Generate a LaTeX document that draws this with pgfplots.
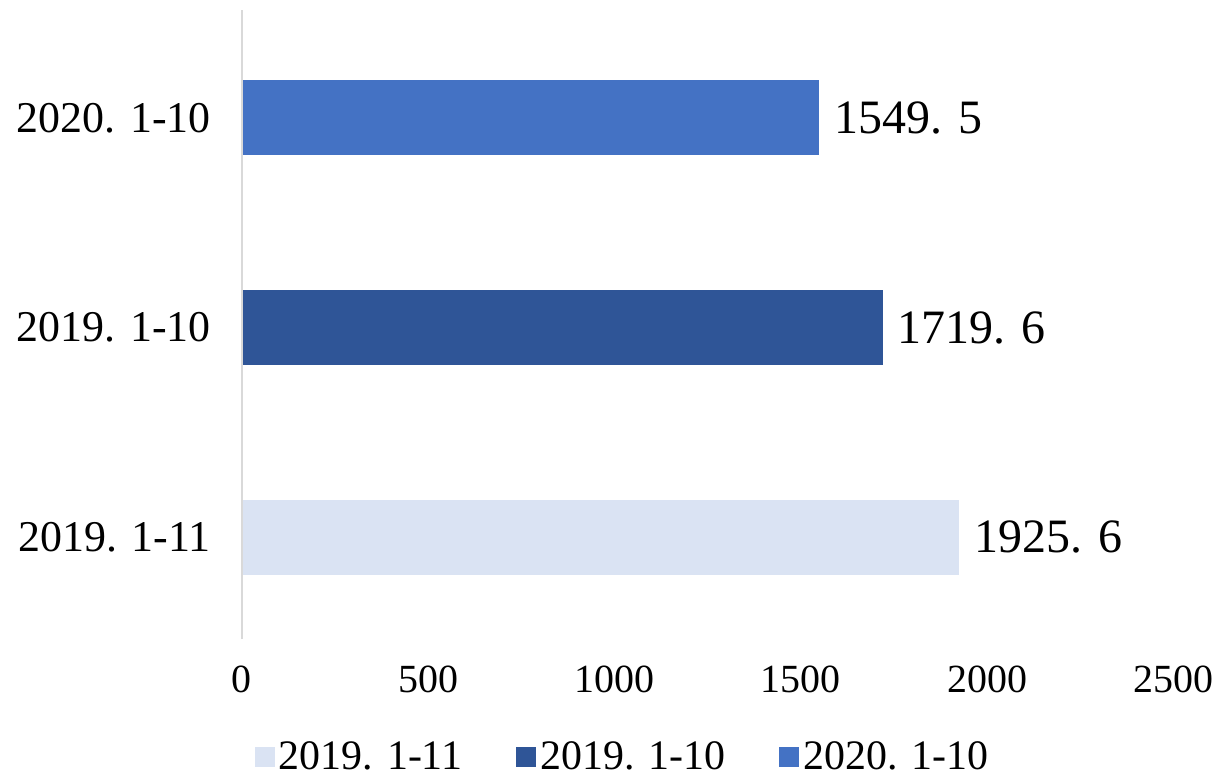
\documentclass[border=0pt]{standalone}
\usepackage{fontspec}
\setmainfont{Liberation Serif}
\usepackage{pgfplots}
\pgfplotsset{compat=1.18}
\definecolor{cA}{HTML}{DAE3F3}
\definecolor{cB}{HTML}{2F5597}
\definecolor{cC}{HTML}{4472C4}
\begin{document}
\begin{tikzpicture}
\begin{axis}[
  scale only axis,
  width=466.5pt, height=315pt,
  xbar, bar width=37.5pt, bar shift=0pt,
  xmin=0, xmax=2500,
  ymin=-0.486, ymax=2.514,
  xtick={0,500,1000,1500,2000,2500},
  ytick={0,1,2},
  yticklabels={{2019. 1-11},{2019. 1-10},{2020. 1-10}},
  major tick length=0pt,
  axis line style={draw=none},
  /pgf/number format/assume math mode=true,
  /pgf/number format/1000 sep={},
  xticklabel style={font=\fontsize{20}{22}\selectfont, yshift=-10pt},
  yticklabel style={font=\fontsize{22}{24}\selectfont, xshift=-12pt},
  nodes near coords,
  nodes near coords style={font=\fontsize{24}{26}\selectfont, anchor=west, xshift=4pt},
  point meta=explicit symbolic,
  legend style={at={(0.41,-0.187)}, anchor=center, draw=none, fill=none,
    legend columns=3, font=\fontsize{21}{23}\selectfont,
    /tikz/every even column/.append style={column sep=25pt}},
  legend image code/.code={\fill[#1] (0pt,-5pt) rectangle (10pt,5pt);},
  clip=false,
]
\addplot[draw=none, fill=cA] coordinates {(1925.6,0) [1925. 6]};
\addplot[draw=none, fill=cB] coordinates {(1719.6,1) [1719. 6]};
\addplot[draw=none, fill=cC] coordinates {(1549.5,2) [1549. 5]};
\legend{{2019. 1-11},{2019. 1-10},{2020. 1-10}}
\draw[line width=1pt, gray!30] (rel axis cs:0,0) -- (rel axis cs:0,1);
\path (rel axis cs:-0.2594,-0.2143) rectangle (rel axis cs:1.0482,1.0159);
\end{axis}
\end{tikzpicture}
\end{document}
